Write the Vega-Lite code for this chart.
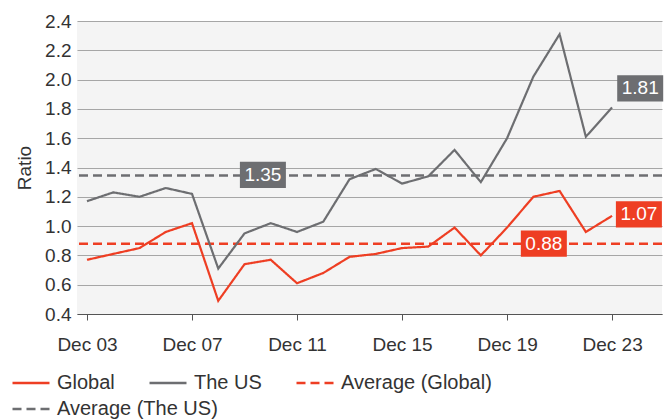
{
  "$schema": "https://vega.github.io/schema/vega-lite/v6.json",
  "autosize": "none",
  "width": 585,
  "height": 293,
  "padding": {"left": 77, "top": 21, "right": 8, "bottom": 105},
  "background": "white",
  "datasets": {
    "lines": [
      {"year": 2003, "series": "Global", "value": 0.77},
      {"year": 2004, "series": "Global", "value": 0.81},
      {"year": 2005, "series": "Global", "value": 0.85},
      {"year": 2006, "series": "Global", "value": 0.96},
      {"year": 2007, "series": "Global", "value": 1.02},
      {"year": 2008, "series": "Global", "value": 0.49},
      {"year": 2009, "series": "Global", "value": 0.74},
      {"year": 2010, "series": "Global", "value": 0.77},
      {"year": 2011, "series": "Global", "value": 0.61},
      {"year": 2012, "series": "Global", "value": 0.68},
      {"year": 2013, "series": "Global", "value": 0.79},
      {"year": 2014, "series": "Global", "value": 0.81},
      {"year": 2015, "series": "Global", "value": 0.85},
      {"year": 2016, "series": "Global", "value": 0.86},
      {"year": 2017, "series": "Global", "value": 0.99},
      {"year": 2018, "series": "Global", "value": 0.80},
      {"year": 2019, "series": "Global", "value": 0.99},
      {"year": 2020, "series": "Global", "value": 1.20},
      {"year": 2021, "series": "Global", "value": 1.24},
      {"year": 2022, "series": "Global", "value": 0.96},
      {"year": 2023, "series": "Global", "value": 1.07},
      {"year": 2003, "series": "The US", "value": 1.17},
      {"year": 2004, "series": "The US", "value": 1.23},
      {"year": 2005, "series": "The US", "value": 1.20},
      {"year": 2006, "series": "The US", "value": 1.26},
      {"year": 2007, "series": "The US", "value": 1.22},
      {"year": 2008, "series": "The US", "value": 0.71},
      {"year": 2009, "series": "The US", "value": 0.95},
      {"year": 2010, "series": "The US", "value": 1.02},
      {"year": 2011, "series": "The US", "value": 0.96},
      {"year": 2012, "series": "The US", "value": 1.03},
      {"year": 2013, "series": "The US", "value": 1.32},
      {"year": 2014, "series": "The US", "value": 1.39},
      {"year": 2015, "series": "The US", "value": 1.29},
      {"year": 2016, "series": "The US", "value": 1.34},
      {"year": 2017, "series": "The US", "value": 1.52},
      {"year": 2018, "series": "The US", "value": 1.30},
      {"year": 2019, "series": "The US", "value": 1.60},
      {"year": 2020, "series": "The US", "value": 2.02},
      {"year": 2021, "series": "The US", "value": 2.31},
      {"year": 2022, "series": "The US", "value": 1.61},
      {"year": 2023, "series": "The US", "value": 1.81}
    ],
    "avgGlobal": [
      {"series": "Average (Global)", "value": 0.88}
    ],
    "avgUS": [
      {"series": "Average (The US)", "value": 1.345}
    ],
    "labels": [
      {"series": "The US", "year": 2009.7, "value": 1.35, "text": "1.35"},
      {"series": "Global", "year": 2020.4, "value": 0.88, "text": "0.88"},
      {"series": "The US", "year": 2024.07, "value": 1.94, "text": "1.81"},
      {"series": "Global", "year": 2024.02, "value": 1.08, "text": "1.07"}
    ]
  },
  "config": {
    "view": {"fill": "#f4f4f4", "stroke": null},
    "font": "Liberation Sans",
    "axis": {"labelFont": "Liberation Sans", "titleFont": "Liberation Sans", "labelColor": "#333333", "titleColor": "#333333"},
    "legend": {
      "labelFont": "Liberation Sans",
      "orient": "none",
      "direction": "horizontal",
      "symbolType": "stroke",
      "symbolSize": 1369,
      "symbolStrokeWidth": 2.5,
      "labelFontSize": 20,
      "labelColor": "#333333",
      "labelOffset": 6,
      "labelLimit": 0,
      "columnPadding": 29
    }
  },
  "encoding": {
    "x": {
      "field": "year", "type": "quantitative",
      "scale": {"domain": [2002.62, 2024.9], "nice": false, "zero": false},
      "axis": {
        "title": null,
        "values": [2003, 2007, 2011, 2015, 2019, 2023],
        "labelExpr": "'Dec ' + substring(toString(datum.value), 2, 4)",
        "grid": false,
        "domainColor": "#555555",
        "domainWidth": 1,
        "tickColor": "#555555",
        "tickSize": 6,
        "labelFontSize": 19,
        "labelPadding": 15
      }
    },
    "y": {
      "field": "value", "type": "quantitative",
      "scale": {"domain": [0.4, 2.4], "nice": false, "zero": false},
      "axis": {
        "title": "Ratio",
        "titleFontSize": 19,
        "titleFontWeight": "normal",
        "titlePadding": 10,
        "values": [0.4, 0.6, 0.8, 1.0, 1.2, 1.4, 1.6, 1.8, 2.0, 2.2, 2.4],
        "format": ".1f",
        "domain": false,
        "ticks": false,
        "labelPadding": 6,
        "labelFontSize": 19,
        "gridColor": "#a6a6a6",
        "gridWidth": 1.2,
        "gridOpacity": 1
      }
    }
  },
  "resolve": {"scale": {"color": "independent", "strokeDash": "independent"}},
  "layer": [
    {
      "data": {"name": "avgUS"},
      "mark": {"type": "rule", "strokeWidth": 2.5},
      "encoding": {
        "x": null,
        "color": {
          "field": "series", "type": "nominal",
          "scale": {"domain": ["Average (The US)"], "range": ["#6d6e71"]},
          "legend": {"title": null, "legendX": -66, "legendY": 368}
        },
        "strokeDash": {
          "field": "series", "type": "nominal",
          "scale": {"domain": ["Average (The US)"], "range": [[9, 5]]},
          "legend": {"title": null, "legendX": -66, "legendY": 368}
        }
      }
    },
    {
      "layer": [
        {
          "data": {"name": "avgGlobal"},
          "mark": {"type": "rule", "strokeWidth": 2.5},
          "encoding": {
            "x": null,
            "color": {"field": "series", "type": "nominal"},
            "strokeDash": {"field": "series", "type": "nominal"}
          }
        },
        {
          "data": {"name": "lines"},
          "mark": {"type": "line", "strokeWidth": 2.2},
          "encoding": {
            "color": {
              "field": "series", "type": "nominal",
              "scale": {
                "domain": ["Global", "The US", "Average (Global)"],
                "range": ["#ee3e23", "#6d6e71", "#ee3e23"]
              },
              "legend": {"title": null, "legendX": -66, "legendY": 342}
            },
            "strokeDash": {
              "field": "series", "type": "nominal",
              "scale": {
                "domain": ["Global", "The US", "Average (Global)"],
                "range": [[1, 0], [1, 0], [9, 5]]
              },
              "legend": {"title": null, "legendX": -66, "legendY": 342}
            }
          }
        },
        {
          "data": {"name": "labels"},
          "mark": {"type": "point", "shape": "M-1,-0.57L1,-0.57L1,0.57L-1,0.57Z", "size": 2116, "filled": true, "opacity": 1},
          "encoding": {
            "color": {"field": "series", "type": "nominal", "legend": null}
          }
        },
        {
          "data": {"name": "labels"},
          "mark": {"type": "text", "color": "white", "fontSize": 19, "font": "Liberation Sans", "align": "center", "baseline": "middle"},
          "encoding": {
            "text": {"field": "text", "type": "nominal"}
          }
        }
      ]
    }
  ]
}
